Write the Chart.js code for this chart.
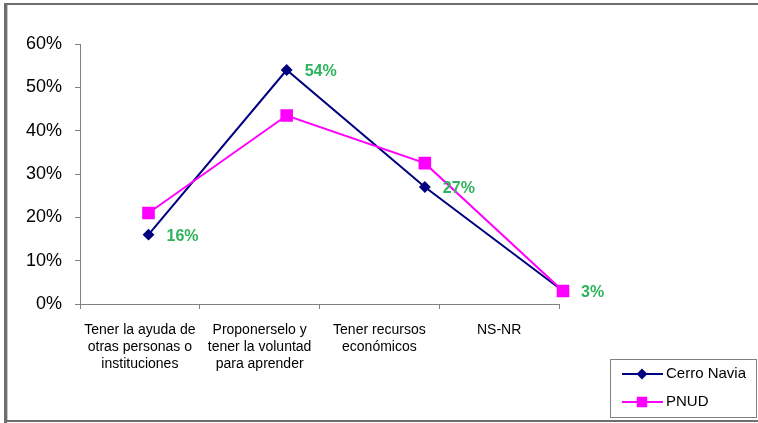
<!DOCTYPE html>
<html><head><meta charset="utf-8">
<script src="https://cdn.jsdelivr.net/npm/chart.js@4"></script>
<style>html,body{margin:0;padding:0;background:#fff;}#wrap{width:758px;height:423px;position:relative;}</style>
</head><body><div id="wrap"><canvas id="c" width="758" height="423"></canvas></div>
<script>
const categories = [
  ["Tener la ayuda de", "otras personas o", "instituciones"],
  ["Proponerselo y", "tener la voluntad", "para aprender"],
  ["Tener recursos", "económicos"],
  ["NS-NR"]
];
const seriesNames = ["Cerro Navia", "PNUD"];
const cerroNavia = [16, 54, 27, 3];
const pnud = [21, 43.5, 32.5, 3];
const cerroNaviaLabels = ["16%", "54%", "27%", "3%"];
const yMin = 0, yMax = 60, yStep = 10;

const FONT = "'Liberation Sans', Arial, sans-serif";

const framePlugin = {
  id: 'frame',
  beforeDraw(chart) {
    const ctx = chart.ctx;
    ctx.save();
    ctx.fillStyle = '#fff';
    ctx.fillRect(0, 0, chart.width, chart.height);
    ctx.fillStyle = '#6e6e6e';
    ctx.fillRect(4, 3, 3, 420);      // left
    ctx.fillRect(4, 3, 754, 2);      // top
    ctx.fillRect(4, 420, 754, 2);    // bottom
    ctx.fillStyle = '#c8c8c8';
    ctx.fillRect(7, 5, 1, 415);
    ctx.restore();
  }
};

const labelPlugin = {
  id: 'vlabels',
  afterDatasetsDraw(chart) {
    const ctx = chart.ctx;
    const meta = chart.getDatasetMeta(0);
    ctx.save();
    ctx.fillStyle = '#2db35c';
    ctx.font = "bold 16px " + FONT;
    ctx.textAlign = 'left';
    ctx.textBaseline = 'middle';
    meta.data.forEach((pt, i) => {
      ctx.fillText(cerroNaviaLabels[i], pt.x + 18, pt.y + 2);
    });
    ctx.restore();
  }
};

const legendPlugin = {
  id: 'boxlegend',
  afterDraw(chart) {
    const ctx = chart.ctx;
    ctx.save();
    ctx.strokeStyle = '#808080';
    ctx.lineWidth = 1;
    ctx.strokeRect(610.5, 359.5, 146, 58);
    chart.data.datasets.forEach((ds, i) => {
      const y = 374 + i * 28;
      ctx.strokeStyle = ds.borderColor;
      ctx.lineWidth = 2;
      ctx.beginPath();
      ctx.moveTo(622, y);
      ctx.lineTo(663, y);
      ctx.stroke();
      ctx.fillStyle = ds.pointBackgroundColor;
      Chart.helpers.drawPoint(ctx, {pointStyle: ds.pointStyle, rotation: 0, radius: i === 0 ? 4 : 6, borderWidth: 1}, 642, y);
      ctx.fillStyle = '#000';
      ctx.font = "15px " + FONT;
      ctx.textAlign = 'left';
      ctx.textBaseline = 'middle';
      ctx.fillText(ds.label, 666, y);
    });
    ctx.restore();
  }
};

new Chart(document.getElementById('c'), {
  type: 'line',
  data: {
    labels: categories,
    datasets: [
      {
        label: seriesNames[0],
        data: cerroNavia.map((v, i) => ({x: i, y: v})),
        xAxisID: 'xp',
        borderColor: '#000080',
        backgroundColor: '#000080',
        pointBackgroundColor: '#000080',
        pointBorderColor: '#000080',
        pointStyle: 'rectRot',
        pointRadius: 4.5,
        borderWidth: 2,
        tension: 0,
        clip: false,
        order: 2
      },
      {
        label: seriesNames[1],
        data: pnud.map((v, i) => ({x: i, y: v})),
        xAxisID: 'xp',
        borderColor: '#ff00ff',
        backgroundColor: '#ff00ff',
        pointBackgroundColor: '#ff00ff',
        pointBorderColor: '#ff00ff',
        pointStyle: 'rect',
        pointRadius: 7.5,
        borderWidth: 2,
        tension: 0,
        clip: false,
        order: 1
      }
    ]
  },
  options: {
    responsive: false,
    animation: false,
    devicePixelRatio: 1,
    layout: {padding: {top: 44, right: 199, left: 0, bottom: 0}},
    plugins: {legend: {display: false}, tooltip: {enabled: false}},
    scales: {
      x: {
        type: 'category',
        position: 'bottom',
        offset: true,
        grid: {offset: true, drawOnChartArea: false, drawTicks: true, tickLength: 5, color: '#808080'},
        border: {display: true, color: '#808080', width: 1},
        ticks: {color: '#000', font: {family: FONT, size: 14, lineHeight: 1.2}, padding: 13, maxRotation: 0, minRotation: 0, autoSkip: false},
        afterFit(s) { s.height = 119; }
      },
      xp: {type: 'linear', display: false, min: -0.4958, max: 2.971},
      y: {
        min: yMin, max: yMax,
        ticks: {stepSize: yStep, callback: v => v + '%', color: '#000', font: {family: FONT, size: 18}, padding: 13},
        grid: {drawOnChartArea: false, drawTicks: true, tickLength: 5, color: '#808080'},
        border: {display: true, color: '#808080', width: 1},
        afterFit(s) { s.width = 80; }
      }
    }
  },
  plugins: [framePlugin, labelPlugin, legendPlugin]
});
</script>
</body></html>
